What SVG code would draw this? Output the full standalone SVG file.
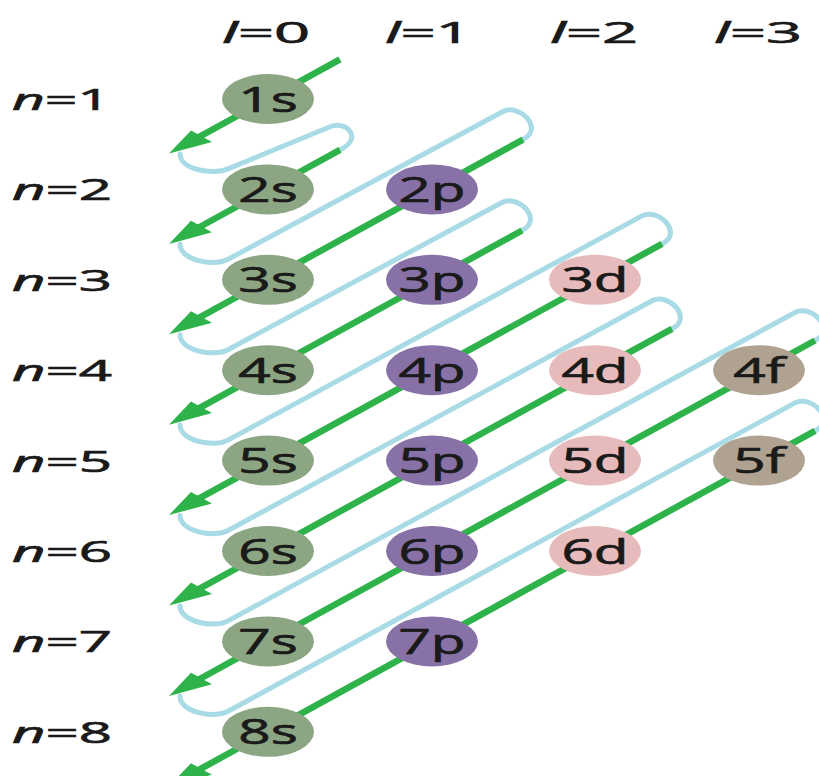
<svg xmlns="http://www.w3.org/2000/svg" width="819" height="776" viewBox="0 0 819 776">
<style>
.bg{fill:#ffffff}
.blue{fill:none;stroke:#a8dbe5;stroke-width:5;stroke-linecap:round;stroke-linejoin:round}
.grn{fill:none;stroke:#2eb34a;stroke-width:6.5;stroke-linecap:butt}
.head{fill:#2eb34a}
.s{fill:#8ca583}
.p{fill:#8771a6}
.d{fill:#e7bbbb}
.f{fill:#afa290}
.lbl{font-family:"Open Sans","DejaVu Sans",sans-serif;font-size:35px;fill:#1a1a1a;stroke:#1a1a1a;stroke-width:0.7;text-anchor:middle}
.hdr{font-family:"Open Sans","DejaVu Sans",sans-serif;font-size:30px;fill:#1a1a1a;stroke:#1a1a1a;stroke-width:0.7}
.it{font-style:italic}
</style>
<rect class="bg" x="0" y="0" width="819" height="776"/>

<g id="headers">
<text class="hdr" x="222" y="43" textLength="88" lengthAdjust="spacingAndGlyphs"><tspan class="it">l</tspan>=0</text>
<text class="hdr" x="385" y="43" textLength="86" lengthAdjust="spacingAndGlyphs"><tspan class="it">l</tspan>=1</text>
<text class="hdr" x="550" y="43" textLength="88" lengthAdjust="spacingAndGlyphs"><tspan class="it">l</tspan>=2</text>
<text class="hdr" x="714" y="43" textLength="88" lengthAdjust="spacingAndGlyphs"><tspan class="it">l</tspan>=3</text>
<text class="hdr" x="12" y="110" textLength="98" lengthAdjust="spacingAndGlyphs"><tspan class="it">n</tspan>=1</text>
<text class="hdr" x="12" y="200.4" textLength="100" lengthAdjust="spacingAndGlyphs"><tspan class="it">n</tspan>=2</text>
<text class="hdr" x="12" y="290.8" textLength="100" lengthAdjust="spacingAndGlyphs"><tspan class="it">n</tspan>=3</text>
<text class="hdr" x="12" y="381.2" textLength="100" lengthAdjust="spacingAndGlyphs"><tspan class="it">n</tspan>=4</text>
<text class="hdr" x="12" y="471.6" textLength="100" lengthAdjust="spacingAndGlyphs"><tspan class="it">n</tspan>=5</text>
<text class="hdr" x="12" y="562" textLength="100" lengthAdjust="spacingAndGlyphs"><tspan class="it">n</tspan>=6</text>
<text class="hdr" x="12" y="652.4" textLength="100" lengthAdjust="spacingAndGlyphs"><tspan class="it">n</tspan>=7</text>
<text class="hdr" x="12" y="742.8" textLength="100" lengthAdjust="spacingAndGlyphs"><tspan class="it">n</tspan>=8</text>
</g>

<g id="connectors">
<g id="loops">
<path class="blue" d="M180,153.9 C180,169.9 213.3,175.2 228,168.9 L330,126.8 C346.5,119.7 364,138.8 340,149.8"/>
<path class="blue" d="M180,244.3 C180,260.3 213.9,266.9 228,259.3 L503,111.55 C518.9,103 545,128.55 523,139.55"/>
<path class="blue" d="M180,334.7 C180,350.7 213.9,357.3 228,349.7 L502,202.5 C517.9,194 544,219.5 522,230.5"/>
<path class="blue" d="M180,425.1 C180,441.1 213.9,447.7 228,440.1 L642,215.9 C657.8,207.3 684,232.9 662,243.9"/>
<path class="blue" d="M180,515.5 C180,531.5 213.9,538.1 228,530.5 L652,300.8 C667.8,292.2 694,317.8 672,328.8"/>
<path class="blue" d="M180,605.9 C180,621.9 213.9,628.5 228,620.9 L795,312.5 C810.8,303.9 837,329.5 815,340.5"/>
<path class="blue" d="M180,696.3 C180,712.3 213.9,718.9 228,711.3 L795,402.9 C810.8,394.3 837,419.9 815,430.9"/>
</g>
<g id="arrows">
<line class="grn" x1="340" y1="59.4" x2="196" y2="138.6"/>
<polygon class="head" points="169,153.5 191,130.4 212,141.9"/>
<line class="grn" x1="340" y1="149.8" x2="196" y2="229"/>
<polygon class="head" points="169,243.9 191,220.8 212,232.3"/>
<line class="grn" x1="523" y1="139.55" x2="196" y2="319.4"/>
<polygon class="head" points="169,334.3 191,311.2 212,322.7"/>
<line class="grn" x1="522" y1="230.5" x2="196" y2="409.8"/>
<polygon class="head" points="169,424.7 191,401.6 212,413.1"/>
<line class="grn" x1="662" y1="243.9" x2="196" y2="500.2"/>
<polygon class="head" points="169,515.1 191,492 212,503.5"/>
<line class="grn" x1="672" y1="328.8" x2="196" y2="590.6"/>
<polygon class="head" points="169,605.5 191,582.4 212,593.9"/>
<line class="grn" x1="815" y1="340.5" x2="196" y2="681"/>
<polygon class="head" points="169,695.9 191,672.8 212,684.3"/>
<line class="grn" x1="815" y1="430.9" x2="196" y2="771.4"/>
<polygon class="head" points="169,786.3 191,763.2 212,774.7"/>
</g>
</g>

<g id="node-1s"><ellipse class="s" cx="268" cy="99" rx="46" ry="25"/><text class="lbl" transform="translate(268,111.5) scale(1.62,1)">1s</text></g>
<g id="node-2s"><ellipse class="s" cx="268" cy="189.4" rx="46" ry="25"/><text class="lbl" transform="translate(268,201.9) scale(1.62,1)">2s</text></g>
<g id="node-3s"><ellipse class="s" cx="268" cy="279.8" rx="46" ry="25"/><text class="lbl" transform="translate(268,292.3) scale(1.62,1)">3s</text></g>
<g id="node-4s"><ellipse class="s" cx="268" cy="370.2" rx="46" ry="25"/><text class="lbl" transform="translate(268,382.7) scale(1.62,1)">4s</text></g>
<g id="node-5s"><ellipse class="s" cx="268" cy="460.6" rx="46" ry="25"/><text class="lbl" transform="translate(268,473.1) scale(1.62,1)">5s</text></g>
<g id="node-6s"><ellipse class="s" cx="268" cy="551" rx="46" ry="25"/><text class="lbl" transform="translate(268,563.5) scale(1.62,1)">6s</text></g>
<g id="node-7s"><ellipse class="s" cx="268" cy="641.4" rx="46" ry="25"/><text class="lbl" transform="translate(268,653.9) scale(1.62,1)">7s</text></g>
<g id="node-8s"><ellipse class="s" cx="268" cy="731.8" rx="46" ry="25"/><text class="lbl" transform="translate(268,744.3) scale(1.62,1)">8s</text></g>

<g id="node-2p"><ellipse class="p" cx="432" cy="189.4" rx="46" ry="25"/><text class="lbl" transform="translate(432,201.9) scale(1.62,1)">2p</text></g>
<g id="node-3p"><ellipse class="p" cx="432" cy="279.8" rx="46" ry="25"/><text class="lbl" transform="translate(432,292.3) scale(1.62,1)">3p</text></g>
<g id="node-4p"><ellipse class="p" cx="432" cy="370.2" rx="46" ry="25"/><text class="lbl" transform="translate(432,382.7) scale(1.62,1)">4p</text></g>
<g id="node-5p"><ellipse class="p" cx="432" cy="460.6" rx="46" ry="25"/><text class="lbl" transform="translate(432,473.1) scale(1.62,1)">5p</text></g>
<g id="node-6p"><ellipse class="p" cx="432" cy="551" rx="46" ry="25"/><text class="lbl" transform="translate(432,563.5) scale(1.62,1)">6p</text></g>
<g id="node-7p"><ellipse class="p" cx="432" cy="641.4" rx="46" ry="25"/><text class="lbl" transform="translate(432,653.9) scale(1.62,1)">7p</text></g>

<g id="node-3d"><ellipse class="d" cx="595" cy="279.8" rx="46" ry="25"/><text class="lbl" transform="translate(595,292.3) scale(1.62,1)">3d</text></g>
<g id="node-4d"><ellipse class="d" cx="595" cy="370.2" rx="46" ry="25"/><text class="lbl" transform="translate(595,382.7) scale(1.62,1)">4d</text></g>
<g id="node-5d"><ellipse class="d" cx="595" cy="460.6" rx="46" ry="25"/><text class="lbl" transform="translate(595,473.1) scale(1.62,1)">5d</text></g>
<g id="node-6d"><ellipse class="d" cx="595" cy="551" rx="46" ry="25"/><text class="lbl" transform="translate(595,563.5) scale(1.62,1)">6d</text></g>

<g id="node-4f"><ellipse class="f" cx="759" cy="370.2" rx="46" ry="25"/><text class="lbl" transform="translate(759,382.7) scale(1.62,1)">4f</text></g>
<g id="node-5f"><ellipse class="f" cx="759" cy="460.6" rx="46" ry="25"/><text class="lbl" transform="translate(759,473.1) scale(1.62,1)">5f</text></g>
</svg>
